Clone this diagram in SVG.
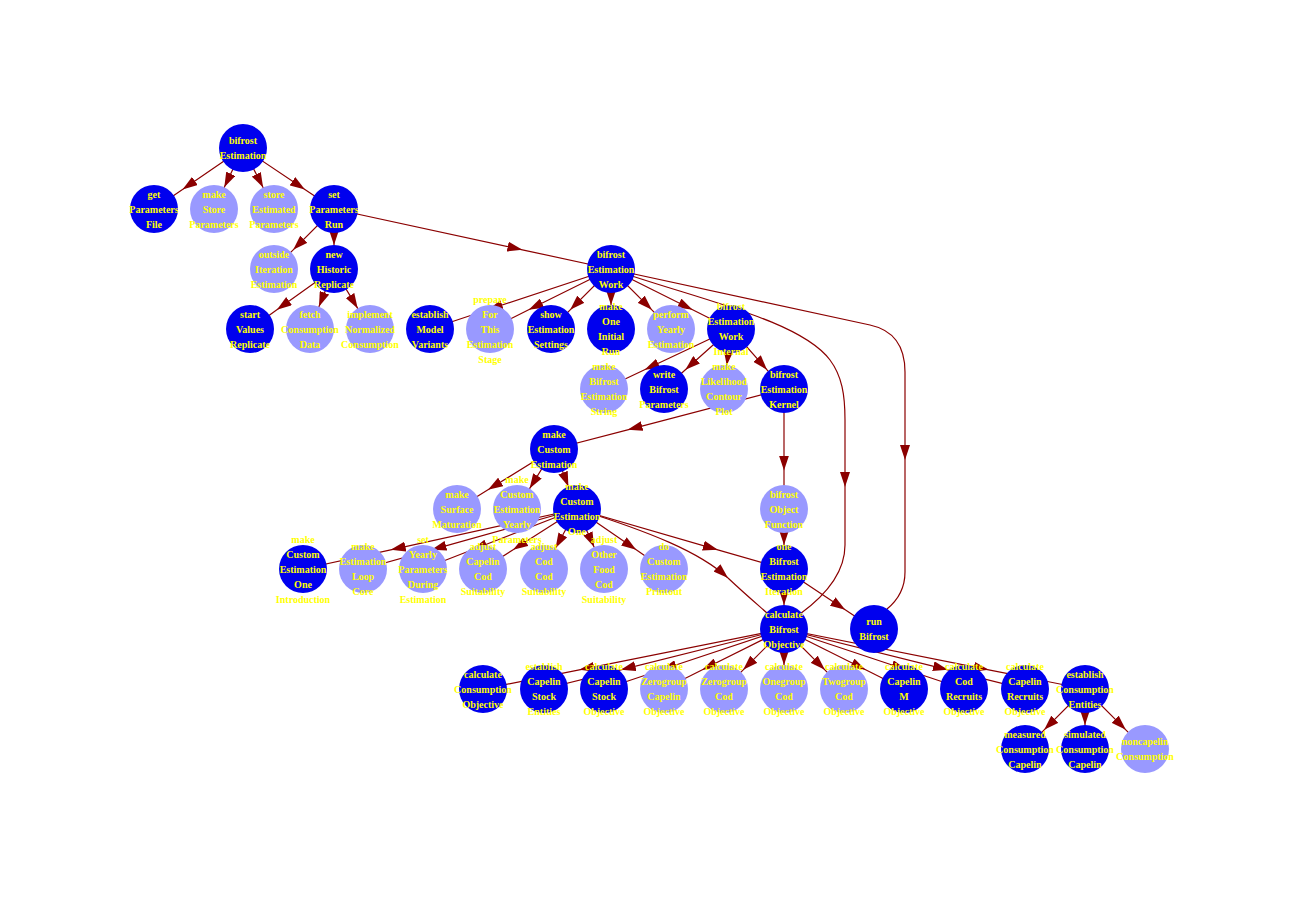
<svg xmlns="http://www.w3.org/2000/svg" width="1300" height="900" viewBox="0 0 1300 900">
<style>
.e{fill:none;stroke:#8B0000;stroke-width:1.2}
.m{marker-mid:url(#a)}
.d circle{fill:#0000EE}
.l circle{fill:#9999FF}
text{font-family:"Liberation Serif","Times New Roman",serif;font-size:10px;font-weight:bold;fill:#FFFF00;text-anchor:middle}
</style>
<defs>
<marker id="a" viewBox="0 0 15 10" refX="15" refY="5" markerWidth="15" markerHeight="10" markerUnits="userSpaceOnUse" orient="auto"><path d="M0,0 L15,5 L0,10 z" fill="#8B0000"/></marker>
</defs>
<rect width="1300" height="900" fill="#FFFFFF"/>
<g id="edges">
<path class="e m" d="M243,148 L182.5,189.5 L154,209"/>
<path class="e m" d="M243,148 L224.3,187.3 L214,209"/>
<path class="e m" d="M243,148 L263.1,187.6 L274,209"/>
<path class="e m" d="M243,148 L304.9,189.5 L334,209"/>
<path class="e m" d="M334,209 L293.2,249.8 L274,269"/>
<path class="e m" d="M334,209 L334,245 L334,269"/>
<path class="e m" d="M334,209 L522.4,249.8 L611,269"/>
<path class="e m" d="M334,269 L276.9,309.8 L250,329"/>
<path class="e m" d="M334,269 L318.9,306.7 L310,329"/>
<path class="e m" d="M334,269 L357.7,308.4 L370,329"/>
<path class="e m" d="M611,269 L487.9,309.8 L430,329"/>
<path class="e m" d="M611,269 L528.7,309.8 L490,329"/>
<path class="e m" d="M611,269 L570.2,309.8 L551,329"/>
<path class="e m" d="M611,269 L611,305 L611,329"/>
<path class="e m" d="M611,269 L651.8,309.8 L671,329"/>
<path class="e m" d="M611,269 L692.6,309.8 L731,329"/>
<path class="e" d="M611,269 C700,300 800,320 830,360 C842,376 845,395 845,420 L845,487" marker-end="url(#a)"/>
<path class="e" d="M845,487 L845,545 C845,575 822,598 800,614"/>
<path class="e" d="M611,269 L870,325 C893,330 905,345 905,372 L905,460" marker-end="url(#a)"/>
<path class="e" d="M905,460 L905,572 C905,588 898,600 887,609"/>
<path class="e m" d="M731,329 L644.6,369.8 L604,389"/>
<path class="e m" d="M731,329 L685.4,369.8 L664,389"/>
<path class="e m" d="M731,329 L726.8,365.2 L724,389"/>
<path class="e m" d="M731,329 L767,369.8 L784,389"/>
<path class="e m" d="M784,389 L627.6,429.8 L554,449"/>
<path class="e m" d="M784,389 L784,470.6 L784,509"/>
<path class="e m" d="M784,509 L784,545 L784,569"/>
<path class="e m" d="M784,569 L784,605 L784,629"/>
<path class="e m" d="M784,569 L845.2,609.8 L874,629"/>
<path class="e m" d="M554,449 L488,489.8 L457,509"/>
<path class="e m" d="M554,449 L529.6,488.6 L517,509"/>
<path class="e m" d="M554,449 L568.4,486.6 L577,509"/>
<path class="e m" d="M577,509 L390.7,549.8 L303,569"/>
<path class="e m" d="M577,509 L431.5,549.8 L363,569"/>
<path class="e m" d="M577,509 L472.3,549.8 L423,569"/>
<path class="e m" d="M577,509 L513.1,549.8 L483,569"/>
<path class="e m" d="M577,509 L555.6,548 L544,569"/>
<path class="e m" d="M577,509 L594.1,547.1 L604,569"/>
<path class="e m" d="M577,509 L636.2,549.8 L664,569"/>
<path class="e m" d="M577,509 L717.8,549.8 L784,569"/>
<path class="e" d="M577,509 C650,532 700,552 728,578" marker-end="url(#a)"/>
<path class="e" d="M728,578 C745,594 758,605 767,613"/>
<path class="e m" d="M784,629 L579.3,669.8 L483,689"/>
<path class="e m" d="M784,629 L620.8,669.8 L544,689"/>
<path class="e m" d="M784,629 L661.6,669.8 L604,689"/>
<path class="e m" d="M784,629 L702.4,669.8 L664,689"/>
<path class="e m" d="M784,629 L743.2,669.8 L724,689"/>
<path class="e m" d="M784,629 L784,665 L784,689"/>
<path class="e m" d="M784,629 L824.8,669.8 L844,689"/>
<path class="e m" d="M784,629 L865.6,669.8 L904,689"/>
<path class="e m" d="M784,629 L906.4,669.8 L964,689"/>
<path class="e m" d="M784,629 L947.9,669.8 L1025,689"/>
<path class="e m" d="M784,629 L988.7,669.8 L1085,689"/>
<path class="e m" d="M1085,689 L1044.2,729.8 L1025,749"/>
<path class="e m" d="M1085,689 L1085,725 L1085,749"/>
<path class="e m" d="M1085,689 L1125.8,729.8 L1145,749"/>
</g>
<g id="bifrostEstimation" class="d"><circle cx="243" cy="148" r="24"/><text y="144"><tspan x="243">bifrost</tspan><tspan x="243" dy="15">Estimation</tspan></text></g>
<g id="getParametersFile" class="d"><circle cx="154" cy="209" r="24"/><text y="197.5"><tspan x="154">get</tspan><tspan x="154" dy="15">Parameters</tspan><tspan x="154" dy="15">File</tspan></text></g>
<g id="makeStoreParameters" class="l"><circle cx="214" cy="209" r="24"/><text y="197.5"><tspan x="214">make</tspan><tspan x="214" dy="15">Store</tspan><tspan x="214" dy="15">Parameters</tspan></text></g>
<g id="storeEstimatedParameters" class="l"><circle cx="274" cy="209" r="24"/><text y="197.5"><tspan x="274">store</tspan><tspan x="274" dy="15">Estimated</tspan><tspan x="274" dy="15">Parameters</tspan></text></g>
<g id="setParametersRun" class="d"><circle cx="334" cy="209" r="24"/><text y="197.5"><tspan x="334">set</tspan><tspan x="334" dy="15">Parameters</tspan><tspan x="334" dy="15">Run</tspan></text></g>
<g id="outsideIterationEstimation" class="l"><circle cx="274" cy="269" r="24"/><text y="257.5"><tspan x="274">outside</tspan><tspan x="274" dy="15">Iteration</tspan><tspan x="274" dy="15">Estimation</tspan></text></g>
<g id="newHistoricReplicate" class="d"><circle cx="334" cy="269" r="24"/><text y="257.5"><tspan x="334">new</tspan><tspan x="334" dy="15">Historic</tspan><tspan x="334" dy="15">Replicate</tspan></text></g>
<g id="startValuesReplicate" class="d"><circle cx="250" cy="329" r="24"/><text y="317.5"><tspan x="250">start</tspan><tspan x="250" dy="15">Values</tspan><tspan x="250" dy="15">Replicate</tspan></text></g>
<g id="fetchConsumptionData" class="l"><circle cx="310" cy="329" r="24"/><text y="317.5"><tspan x="310">fetch</tspan><tspan x="310" dy="15">Consumption</tspan><tspan x="310" dy="15">Data</tspan></text></g>
<g id="implementNormalizedConsumption" class="l"><circle cx="370" cy="329" r="24"/><text y="317.5"><tspan x="370">implement</tspan><tspan x="370" dy="15">Normalized</tspan><tspan x="370" dy="15">Consumption</tspan></text></g>
<g id="establishModelVariants" class="d"><circle cx="430" cy="329" r="24"/><text y="317.5"><tspan x="430">establish</tspan><tspan x="430" dy="15">Model</tspan><tspan x="430" dy="15">Variants</tspan></text></g>
<g id="prepareForThisEstimationStage" class="l"><circle cx="490" cy="329" r="24"/><text y="302.5"><tspan x="490">prepare</tspan><tspan x="490" dy="15">For</tspan><tspan x="490" dy="15">This</tspan><tspan x="490" dy="15">Estimation</tspan><tspan x="490" dy="15">Stage</tspan></text></g>
<g id="showEstimationSettings" class="d"><circle cx="551" cy="329" r="24"/><text y="317.5"><tspan x="551">show</tspan><tspan x="551" dy="15">Estimation</tspan><tspan x="551" dy="15">Settings</tspan></text></g>
<g id="makeOneInitialRun" class="d"><circle cx="611" cy="329" r="24"/><text y="310"><tspan x="611">make</tspan><tspan x="611" dy="15">One</tspan><tspan x="611" dy="15">Initial</tspan><tspan x="611" dy="15">Run</tspan></text></g>
<g id="performYearlyEstimation" class="l"><circle cx="671" cy="329" r="24"/><text y="317.5"><tspan x="671">perform</tspan><tspan x="671" dy="15">Yearly</tspan><tspan x="671" dy="15">Estimation</tspan></text></g>
<g id="bifrostEstimationWorkInternal" class="d"><circle cx="731" cy="329" r="24"/><text y="310"><tspan x="731">bifrost</tspan><tspan x="731" dy="15">Estimation</tspan><tspan x="731" dy="15">Work</tspan><tspan x="731" dy="15">Internal</tspan></text></g>
<g id="bifrostEstimationWork" class="d"><circle cx="611" cy="269" r="24"/><text y="257.5"><tspan x="611">bifrost</tspan><tspan x="611" dy="15">Estimation</tspan><tspan x="611" dy="15">Work</tspan></text></g>
<g id="makeBifrostEstimationString" class="l"><circle cx="604" cy="389" r="24"/><text y="370"><tspan x="604">make</tspan><tspan x="604" dy="15">Bifrost</tspan><tspan x="604" dy="15">Estimation</tspan><tspan x="604" dy="15">String</tspan></text></g>
<g id="writeBifrostParameters" class="d"><circle cx="664" cy="389" r="24"/><text y="377.5"><tspan x="664">write</tspan><tspan x="664" dy="15">Bifrost</tspan><tspan x="664" dy="15">Parameters</tspan></text></g>
<g id="makeLikelihoodContourPlot" class="l"><circle cx="724" cy="389" r="24"/><text y="370"><tspan x="724">make</tspan><tspan x="724" dy="15">Likelihood</tspan><tspan x="724" dy="15">Contour</tspan><tspan x="724" dy="15">Plot</tspan></text></g>
<g id="bifrostEstimationKernel" class="d"><circle cx="784" cy="389" r="24"/><text y="377.5"><tspan x="784">bifrost</tspan><tspan x="784" dy="15">Estimation</tspan><tspan x="784" dy="15">Kernel</tspan></text></g>
<g id="makeCustomEstimation" class="d"><circle cx="554" cy="449" r="24"/><text y="437.5"><tspan x="554">make</tspan><tspan x="554" dy="15">Custom</tspan><tspan x="554" dy="15">Estimation</tspan></text></g>
<g id="makeSurfaceMaturation" class="l"><circle cx="457" cy="509" r="24"/><text y="497.5"><tspan x="457">make</tspan><tspan x="457" dy="15">Surface</tspan><tspan x="457" dy="15">Maturation</tspan></text></g>
<g id="makeCustomEstimationYearlyParameters" class="l"><circle cx="517" cy="509" r="24"/><text y="482.5"><tspan x="517">make</tspan><tspan x="517" dy="15">Custom</tspan><tspan x="517" dy="15">Estimation</tspan><tspan x="517" dy="15">Yearly</tspan><tspan x="517" dy="15">Parameters</tspan></text></g>
<g id="makeCustomEstimationOne" class="d"><circle cx="577" cy="509" r="24"/><text y="490"><tspan x="577">make</tspan><tspan x="577" dy="15">Custom</tspan><tspan x="577" dy="15">Estimation</tspan><tspan x="577" dy="15">One</tspan></text></g>
<g id="bifrostObjectFunction" class="l"><circle cx="784" cy="509" r="24"/><text y="497.5"><tspan x="784">bifrost</tspan><tspan x="784" dy="15">Object</tspan><tspan x="784" dy="15">Function</tspan></text></g>
<g id="makeCustomEstimationOneIntroduction" class="d"><circle cx="303" cy="569" r="24"/><text y="542.5"><tspan x="303">make</tspan><tspan x="303" dy="15">Custom</tspan><tspan x="303" dy="15">Estimation</tspan><tspan x="303" dy="15">One</tspan><tspan x="303" dy="15">Introduction</tspan></text></g>
<g id="makeEstimationLoopCore" class="l"><circle cx="363" cy="569" r="24"/><text y="550"><tspan x="363">make</tspan><tspan x="363" dy="15">Estimation</tspan><tspan x="363" dy="15">Loop</tspan><tspan x="363" dy="15">Core</tspan></text></g>
<g id="setYearlyParametersDuringEstimation" class="l"><circle cx="423" cy="569" r="24"/><text y="542.5"><tspan x="423">set</tspan><tspan x="423" dy="15">Yearly</tspan><tspan x="423" dy="15">Parameters</tspan><tspan x="423" dy="15">During</tspan><tspan x="423" dy="15">Estimation</tspan></text></g>
<g id="adjustCapelinCodSuitability" class="l"><circle cx="483" cy="569" r="24"/><text y="550"><tspan x="483">adjust</tspan><tspan x="483" dy="15">Capelin</tspan><tspan x="483" dy="15">Cod</tspan><tspan x="483" dy="15">Suitability</tspan></text></g>
<g id="adjustCodCodSuitability" class="l"><circle cx="544" cy="569" r="24"/><text y="550"><tspan x="544">adjust</tspan><tspan x="544" dy="15">Cod</tspan><tspan x="544" dy="15">Cod</tspan><tspan x="544" dy="15">Suitability</tspan></text></g>
<g id="adjustOtherFoodCodSuitability" class="l"><circle cx="604" cy="569" r="24"/><text y="542.5"><tspan x="604">adjust</tspan><tspan x="604" dy="15">Other</tspan><tspan x="604" dy="15">Food</tspan><tspan x="604" dy="15">Cod</tspan><tspan x="604" dy="15">Suitability</tspan></text></g>
<g id="doCustomEstimationPrintout" class="l"><circle cx="664" cy="569" r="24"/><text y="550"><tspan x="664">do</tspan><tspan x="664" dy="15">Custom</tspan><tspan x="664" dy="15">Estimation</tspan><tspan x="664" dy="15">Printout</tspan></text></g>
<g id="oneBifrostEstimationIteration" class="d"><circle cx="784" cy="569" r="24"/><text y="550"><tspan x="784">one</tspan><tspan x="784" dy="15">Bifrost</tspan><tspan x="784" dy="15">Estimation</tspan><tspan x="784" dy="15">Iteration</tspan></text></g>
<g id="calculateBifrostObjective" class="d"><circle cx="784" cy="629" r="24"/><text y="617.5"><tspan x="784">calculate</tspan><tspan x="784" dy="15">Bifrost</tspan><tspan x="784" dy="15">Objective</tspan></text></g>
<g id="runBifrost" class="d"><circle cx="874" cy="629" r="24"/><text y="625"><tspan x="874">run</tspan><tspan x="874" dy="15">Bifrost</tspan></text></g>
<g id="calculateConsumptionObjective" class="d"><circle cx="483" cy="689" r="24"/><text y="677.5"><tspan x="483">calculate</tspan><tspan x="483" dy="15">Consumption</tspan><tspan x="483" dy="15">Objective</tspan></text></g>
<g id="establishCapelinStockEntities" class="d"><circle cx="544" cy="689" r="24"/><text y="670"><tspan x="544">establish</tspan><tspan x="544" dy="15">Capelin</tspan><tspan x="544" dy="15">Stock</tspan><tspan x="544" dy="15">Entities</tspan></text></g>
<g id="calculateCapelinStockObjective" class="d"><circle cx="604" cy="689" r="24"/><text y="670"><tspan x="604">calculate</tspan><tspan x="604" dy="15">Capelin</tspan><tspan x="604" dy="15">Stock</tspan><tspan x="604" dy="15">Objective</tspan></text></g>
<g id="calculateZerogroupCapelinObjective" class="l"><circle cx="664" cy="689" r="24"/><text y="670"><tspan x="664">calculate</tspan><tspan x="664" dy="15">Zerogroup</tspan><tspan x="664" dy="15">Capelin</tspan><tspan x="664" dy="15">Objective</tspan></text></g>
<g id="calculateZerogroupCodObjective" class="l"><circle cx="724" cy="689" r="24"/><text y="670"><tspan x="724">calculate</tspan><tspan x="724" dy="15">Zerogroup</tspan><tspan x="724" dy="15">Cod</tspan><tspan x="724" dy="15">Objective</tspan></text></g>
<g id="calculateOnegroupCodObjective" class="l"><circle cx="784" cy="689" r="24"/><text y="670"><tspan x="784">calculate</tspan><tspan x="784" dy="15">Onegroup</tspan><tspan x="784" dy="15">Cod</tspan><tspan x="784" dy="15">Objective</tspan></text></g>
<g id="calculateTwogroupCodObjective" class="l"><circle cx="844" cy="689" r="24"/><text y="670"><tspan x="844">calculate</tspan><tspan x="844" dy="15">Twogroup</tspan><tspan x="844" dy="15">Cod</tspan><tspan x="844" dy="15">Objective</tspan></text></g>
<g id="calculateCapelinMObjective" class="d"><circle cx="904" cy="689" r="24"/><text y="670"><tspan x="904">calculate</tspan><tspan x="904" dy="15">Capelin</tspan><tspan x="904" dy="15">M</tspan><tspan x="904" dy="15">Objective</tspan></text></g>
<g id="calculateCodRecruitsObjective" class="d"><circle cx="964" cy="689" r="24"/><text y="670"><tspan x="964">calculate</tspan><tspan x="964" dy="15">Cod</tspan><tspan x="964" dy="15">Recruits</tspan><tspan x="964" dy="15">Objective</tspan></text></g>
<g id="calculateCapelinRecruitsObjective" class="d"><circle cx="1025" cy="689" r="24"/><text y="670"><tspan x="1025">calculate</tspan><tspan x="1025" dy="15">Capelin</tspan><tspan x="1025" dy="15">Recruits</tspan><tspan x="1025" dy="15">Objective</tspan></text></g>
<g id="establishConsumptionEntities" class="d"><circle cx="1085" cy="689" r="24"/><text y="677.5"><tspan x="1085">establish</tspan><tspan x="1085" dy="15">Consumption</tspan><tspan x="1085" dy="15">Entities</tspan></text></g>
<g id="measuredConsumptionCapelin" class="d"><circle cx="1025" cy="749" r="24"/><text y="737.5"><tspan x="1025">measured</tspan><tspan x="1025" dy="15">Consumption</tspan><tspan x="1025" dy="15">Capelin</tspan></text></g>
<g id="simulatedConsumptionCapelin" class="d"><circle cx="1085" cy="749" r="24"/><text y="737.5"><tspan x="1085">simulated</tspan><tspan x="1085" dy="15">Consumption</tspan><tspan x="1085" dy="15">Capelin</tspan></text></g>
<g id="noncapelinConsumption" class="l"><circle cx="1145" cy="749" r="24"/><text y="745"><tspan x="1145">noncapelin</tspan><tspan x="1145" dy="15">Consumption</tspan></text></g>
</svg>
